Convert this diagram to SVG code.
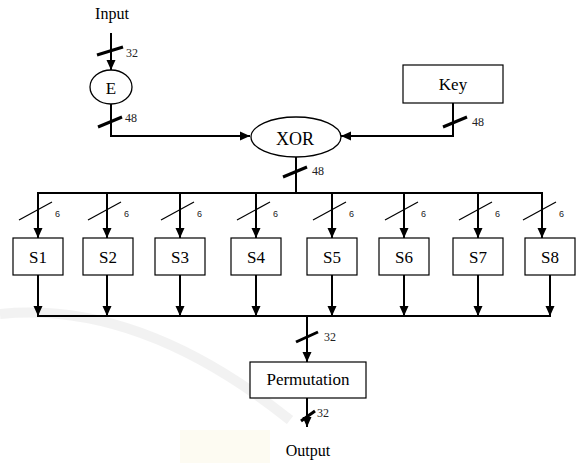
<svg xmlns="http://www.w3.org/2000/svg" width="578" height="463" viewBox="0 0 578 463">
<style>
.t{font-family:"Liberation Serif","Times New Roman",serif;fill:#000;text-anchor:middle}
.lbl{font-family:"Liberation Serif","Times New Roman",serif;font-size:12px;fill:#222}
.six{font-family:"Liberation Sans",Arial,sans-serif;font-size:9px;fill:#222}
.box{fill:#fff;stroke:#000;stroke-width:1.2}
.w{fill:none;stroke:#000;stroke-width:2}
.sl{stroke:#000;stroke-width:3;fill:none}
.sl6{stroke:#000;stroke-width:1.2;fill:none}
</style>
<defs>
<marker id="arr" viewBox="0 0 10 10" refX="10" refY="5" markerWidth="10" markerHeight="10" markerUnits="userSpaceOnUse" orient="auto">
<path d="M0,0.5 L10,5 L0,9.5 z" fill="#000"/>
</marker>
</defs>
<rect width="578" height="463" fill="#fff"/>
<g id="watermark" opacity="0.5">
<rect x="180" y="430" width="90" height="33" fill="#fdf8e6"/>
<path d="M0,314 Q140,300 290,420" fill="none" stroke="#e6e6e6" stroke-width="10"/>
</g>
<g id="connectors">
<path class="w" d="M111,33 V70" marker-end="url(#arr)"/>
<path class="w" d="M111,104 V136 H250" marker-end="url(#arr)"/>
<path class="w" d="M453,103 V136 H341" marker-end="url(#arr)"/>
<path class="w" d="M296,157 V193"/>
<path class="w" stroke-width="2.5" d="M37,193 H543"/>
<path class="w" d="M38,193 V238" marker-end="url(#arr)"/>
<path class="w" d="M107,193 V238" marker-end="url(#arr)"/>
<path class="w" d="M180,193 V238" marker-end="url(#arr)"/>
<path class="w" d="M256,193 V238" marker-end="url(#arr)"/>
<path class="w" d="M332,193 V238" marker-end="url(#arr)"/>
<path class="w" d="M404,193 V238" marker-end="url(#arr)"/>
<path class="w" d="M478,193 V238" marker-end="url(#arr)"/>
<path class="w" d="M542,193 V238" marker-end="url(#arr)"/>
<path class="w" d="M38,275 V316" marker-end="url(#arr)"/>
<path class="w" d="M107,275 V316" marker-end="url(#arr)"/>
<path class="w" d="M180,275 V316" marker-end="url(#arr)"/>
<path class="w" d="M256,275 V316" marker-end="url(#arr)"/>
<path class="w" d="M332,275 V316" marker-end="url(#arr)"/>
<path class="w" d="M404,275 V316" marker-end="url(#arr)"/>
<path class="w" d="M478,275 V316" marker-end="url(#arr)"/>
<path class="w" d="M550,275 V316" marker-end="url(#arr)"/>
<path class="w" stroke-width="2.5" d="M37,316 H551"/>
<path class="w" d="M307,316 V362" marker-end="url(#arr)"/>
<path class="w" d="M307,398 V427" marker-end="url(#arr)"/>
<path class="sl" d="M97,55 L123,47"/>
<path class="sl" d="M98,127 L122,117"/>
<path class="sl" d="M443,127 L467,117"/>
<path class="sl" d="M283,177 L307,167"/>
<path class="sl" d="M296,342 L318,332"/>
<path class="sl" d="M301,421 L315,411"/>
<path class="sl6" d="M19,220 L52,202"/>
<path class="sl6" d="M88,220 L121,202"/>
<path class="sl6" d="M161,220 L194,202"/>
<path class="sl6" d="M237,220 L270,202"/>
<path class="sl6" d="M313,220 L346,202"/>
<path class="sl6" d="M385,220 L418,202"/>
<path class="sl6" d="M459,220 L492,202"/>
<path class="sl6" d="M523,220 L556,202"/>
<text class="lbl" x="126" y="57">32</text>
<text class="lbl" x="125" y="122">48</text>
<text class="lbl" x="472" y="126">48</text>
<text class="lbl" x="312" y="175">48</text>
<text class="lbl" x="324" y="341">32</text>
<text class="lbl" font-size="10" x="317" y="417">32</text>
<text class="six" x="55" y="217">6</text>
<text class="six" x="124" y="217">6</text>
<text class="six" x="197" y="217">6</text>
<text class="six" x="273" y="217">6</text>
<text class="six" x="349" y="217">6</text>
<text class="six" x="421" y="217">6</text>
<text class="six" x="495" y="217">6</text>
<text class="six" x="559" y="217">6</text>
</g>
<g id="input"><text class="t" font-size="16" x="112" y="19">Input</text></g>
<g id="E"><ellipse cx="111" cy="87" rx="21" ry="17" fill="#fff" stroke="#000" stroke-width="1.3"/><text class="t" font-size="17" x="111" y="94">E</text></g>
<g id="key"><rect class="box" x="403" y="65" width="100" height="38"/><text class="t" font-size="17" x="453" y="90">Key</text></g>
<g id="xor"><ellipse cx="296" cy="137" rx="45" ry="20" fill="#fff" stroke="#000" stroke-width="1.3"/><text class="t" font-size="18" x="295" y="145">XOR</text></g>
<g id="s1"><rect class="box" x="13" y="238" width="50" height="37"/><text class="t" font-size="17" x="38" y="263">S1</text></g>
<g id="s2"><rect class="box" x="83" y="238" width="50" height="37"/><text class="t" font-size="17" x="108" y="263">S2</text></g>
<g id="s3"><rect class="box" x="155" y="238" width="50" height="37"/><text class="t" font-size="17" x="180" y="263">S3</text></g>
<g id="s4"><rect class="box" x="231" y="238" width="50" height="37"/><text class="t" font-size="17" x="256" y="263">S4</text></g>
<g id="s5"><rect class="box" x="307" y="238" width="50" height="37"/><text class="t" font-size="17" x="332" y="263">S5</text></g>
<g id="s6"><rect class="box" x="379" y="238" width="50" height="37"/><text class="t" font-size="17" x="404" y="263">S6</text></g>
<g id="s7"><rect class="box" x="453" y="238" width="50" height="37"/><text class="t" font-size="17" x="478" y="263">S7</text></g>
<g id="s8"><rect class="box" x="525" y="238" width="50" height="37"/><text class="t" font-size="17" x="550" y="263">S8</text></g>
<g id="perm"><rect class="box" x="250" y="362" width="116" height="36"/><text class="t" font-size="17" x="308" y="385">Permutation</text></g>
<g id="output"><text class="t" font-size="16" x="308" y="456">Output</text></g>
</svg>
